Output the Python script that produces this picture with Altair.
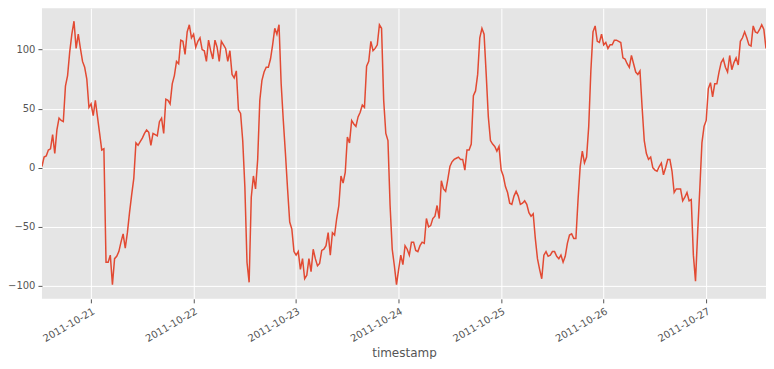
import altair as alt
import pandas as pd

start = "2011-10-20 12:30"
step = "30min"

values = [
    1, 9, 10, 15, 16, 28, 12, 32, 42, 40,
    39, 69, 78, 98, 113, 124, 101, 113, 101, 90,
    85, 75, 51, 54, 44, 57, 43, 29, 15, 16,
    -80, -80, -74, -99, -77, -75, -71, -63, -56, -68,
    -55, -38, -23, -9, 21, 19, 22, 25, 29, 32,
    30, 19, 29, 28, 27, 39, 42, 29, 58, 57,
    54, 71, 78, 90, 88, 108, 107, 96, 115, 121,
    110, 113, 102, 107, 110, 100, 99, 90, 108, 99,
    92, 108, 102, 90, 107, 104, 101, 90, 99, 79,
    76, 82, 49, 46, 23, -16, -80, -97, -25, -7,
    -18, 7, 57, 74, 81, 85, 85, 92, 104, 118,
    113, 121, 71, 40, 12, -18, -46, -52, -71, -74,
    -71, -86, -77, -94, -91, -77, -88, -69, -77, -83,
    -81, -70, -69, -66, -55, -74, -55, -57, -43, -32,
    -7, -13, -4, 26, 21, 40, 37, 35, 43, 47,
    53, 51, 86, 90, 107, 99, 101, 104, 121, 118,
    57, 29, 23, -32, -69, -83, -99, -86, -74, -82,
    -66, -69, -74, -63, -63, -70, -71, -66, -63, -64,
    -43, -50, -49, -43, -41, -32, -43, -11, -18, -20,
    -10, 1, 5, 7, 8, 9, 7, 7, -2, 15,
    15, 20, 61, 65, 79, 110, 118, 113, 79, 43,
    23, 20, 18, 14, 18, -2, -7, -16, -21, -30,
    -31, -24, -20, -24, -31, -30, -28, -31, -38, -41,
    -39, -60, -77, -86, -94, -74, -71, -75, -74, -71,
    -71, -75, -77, -74, -80, -75, -64, -57, -56, -60,
    -60, -27, 1, 14, 4, 9, 35, 82, 115, 120,
    107, 106, 113, 104, 106, 101, 104, 104, 108, 108,
    107, 106, 93, 92, 88, 85, 95, 88, 81, 79,
    82, 51, 23, 12, 7, 9, 0, -2, -3, 1,
    4, -6, 0, 7, 7, -3, -21, -18, -18, -18,
    -28, -25, -21, -28, -27, -74, -96, -55, -18, 21,
    35, 40, 67, 72, 60, 71, 71, 81, 89, 92,
    85, 81, 95, 83, 89, 93, 87, 107, 110, 115,
    110, 104, 103, 120, 115, 114, 117, 121, 117, 101,
]

day_ticks = [21, 22, 23, 24, 25, 26, 27]
y_ticks = [-100, -50, 0, 50, 100]

df = pd.DataFrame({
    "timestamp": pd.date_range(start, periods=len(values), freq=step),
    "value": values,
})

text_color = "#555555"

chart = alt.Chart(df).mark_line(color="#E24A33", strokeWidth=1.5, clip=True).encode(
    x=alt.X(
        "timestamp:T",
        title="timestamp",
        scale=alt.Scale(
            domain=[
                alt.DateTime(year=2011, month=10, date=20, hours=12, minutes=30),
                alt.DateTime(year=2011, month=10, date=27, hours=14, minutes=0),
            ],
            nice=False,
        ),
        axis=alt.Axis(
            values=[alt.DateTime(year=2011, month=10, date=d) for d in day_ticks],
            format="%Y-%m-%d",
            labelAngle=-30,
            labelAlign="right",
            labelBaseline="top",
            labelPadding=3,
            titlePadding=4,
        ),
    ),
    y=alt.Y(
        "value:Q",
        title=None,
        scale=alt.Scale(domain=[-111, 135], nice=False, zero=False),
        axis=alt.Axis(
            values=y_ticks,
            labelExpr="replace(datum.label, '-', '\u2212')",
            labelPadding=3,
        ),
    ),
).properties(
    width=725,
    height=291,
    autosize=alt.AutoSizeParams(type="none"),
    padding={"left": 34, "top": 0, "right": 0, "bottom": 60},
).configure_view(
    fill="#E5E5E5",
    stroke=None,
).configure_axis(
    grid=True,
    gridColor="#FFFFFF",
    gridWidth=1,
    domain=False,
    ticks=True,
    tickColor=text_color,
    tickSize=4,
    tickWidth=1,
    labelColor=text_color,
    labelFont="DejaVu Sans",
    labelFontSize=10,
    titleColor=text_color,
    titleFont="DejaVu Sans",
    titleFontSize=12,
    titleFontWeight="normal",
)

chart.save("out.html", embed_options={"renderer": "svg", "actions": False})
